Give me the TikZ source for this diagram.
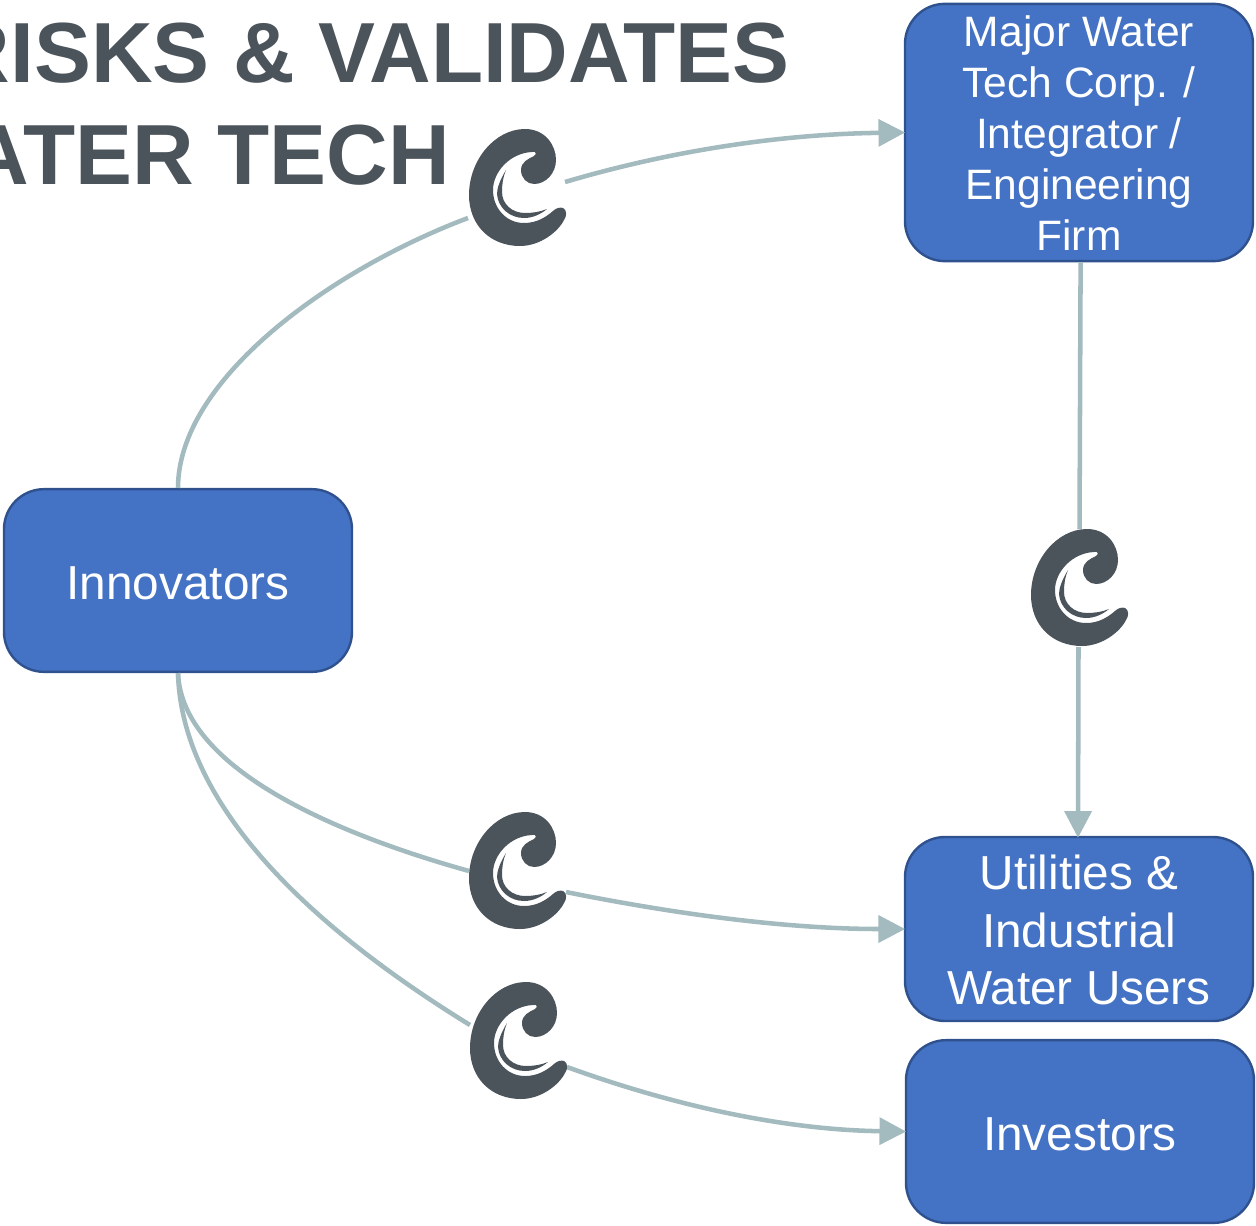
\documentclass[tikz,border=0pt]{standalone}
\usepackage{fontspec}
\setmainfont{Liberation Sans}
\usetikzlibrary{arrows.meta}
\definecolor{boxfill}{HTML}{4472C4}
\definecolor{boxline}{HTML}{2F528F}
\definecolor{linkcol}{HTML}{A3BBBF}
\definecolor{darkcol}{HTML}{4B535B}
\tikzset{
  box/.style={draw=boxline,fill=boxfill,line width=1.8pt,rounded corners=30pt,text=white,
    minimum width=261pt,inner sep=0pt,align=center},
  link/.style={draw=linkcol,line width=3.4pt},
  arrowlink/.style={link,-{Triangle[length=20pt,width=20pt]}},
  titletext/.style={text=darkcol,inner sep=0pt,anchor=base east,font=\bfseries\fontsize{64}{64}\selectfont},
  singlebox/.style={box,minimum height=137pt,text height=28.2pt,text depth=0pt,font=\fontsize{35.8}{43}\selectfont},
  crest/.pic={
    \fill[darkcol] (123,108)
      .. controls (127,110) and (127,116) .. (124,120)
      .. controls (118,132) and (100,146) .. (80,146)
      .. controls (50,146) and (29,125) .. (29,95)
      .. controls (29,60) and (55,29) .. (85,29)
      .. controls (105,29) and (116,45) .. (116,60)
      .. controls (116,73) and (106,84) .. (94,84)
      .. controls (87,84) and (81,78) .. (81,70)
      .. controls (81,62) and (88,59) .. (94,56)
      .. controls (97,54) and (96,51) .. (92,52)
      .. controls (70,53) and (53,72) .. (53,90)
      .. controls (53,108) and (66,123) .. (84,123)
      .. controls (97,123) and (106,117) .. (113,111)
      .. controls (116,108) and (120,107) .. (123,108) -- cycle;
    \fill[darkcol] (66,70)
      .. controls (60,80) and (57,88) .. (57,94)
      .. controls (58,108) and (70,118) .. (84,118)
      .. controls (93,118) and (101,114) .. (107,109)
      .. controls (100,112) and (92,113) .. (85,113)
      .. controls (72,113) and (62,104) .. (62,92)
      .. controls (62,84) and (63,77) .. (66,70) -- cycle;
  }
}
\begin{document}
\begin{tikzpicture}[x=0.75pt,y=-0.75pt]
\useasboundingbox (0,0) rectangle (1256,1225);
\clip (0,0) rectangle (1256,1225);
\node[titletext] (titleA) at (790,82) {RISKS \& VALIDATES};
\node[titletext] (titleB) at (450,184) {WATER TECH};

\node[box,minimum height=193pt,font=\fontsize{31.9}{38.25}\selectfont] (major) at (1079,132.5)
  {\rule{0pt}{24pt}Major Water\\Tech Corp. /\\Integrator /\\Engineering\\Firm};
\node[singlebox] (innov) at (178,580.5) {Innovators};
\node[box,minimum height=138pt,font=\fontsize{35.8}{43.1}\selectfont] (util) at (1079,929)
  {\rule{0pt}{27.6pt}Utilities \&\\Industrial\\Water Users};
\node[singlebox] (invest) at (1080,1131.5) {Investors};

\coordinate (c1in) at (468,218);
\coordinate (c1out) at (565,182);
\coordinate (c2in) at (1079.5,529);
\coordinate (c2out) at (1078.5,647);
\coordinate (c3in) at (469,871);
\coordinate (c3out) at (566,892);
\coordinate (c4in) at (470,1025);
\coordinate (c4out) at (567,1067);

\draw[link] (innov.north) .. controls (178,380) and (330,270) .. (c1in);
\draw[arrowlink] (c1out) .. controls (680,148) and (790,134) .. ([xshift=1pt]major.west);
\draw[link] ([xshift=1.2pt]major.south) -- (c2in);
\draw[arrowlink] (c2out) -- ([xshift=-.75pt,yshift=-1.5pt]util.north);
\draw[link] (innov.south) .. controls (182,770) and (340,835) .. (c3in);
\draw[arrowlink] (c3out) .. controls (680,915) and (790,929) .. ([xshift=1pt]util.west);
\draw[link] (innov.south) .. controls (182,820) and (340,945) .. (c4in);
\draw[arrowlink] (c4out) .. controls (680,1108) and (790,1130) .. ([xshift=1pt]invest.west);

\pic at (440,100) {crest};
\pic at (1002,500) {crest};
\pic at (440,783) {crest};
\pic at (441,953) {crest};
\end{tikzpicture}
\end{document}
